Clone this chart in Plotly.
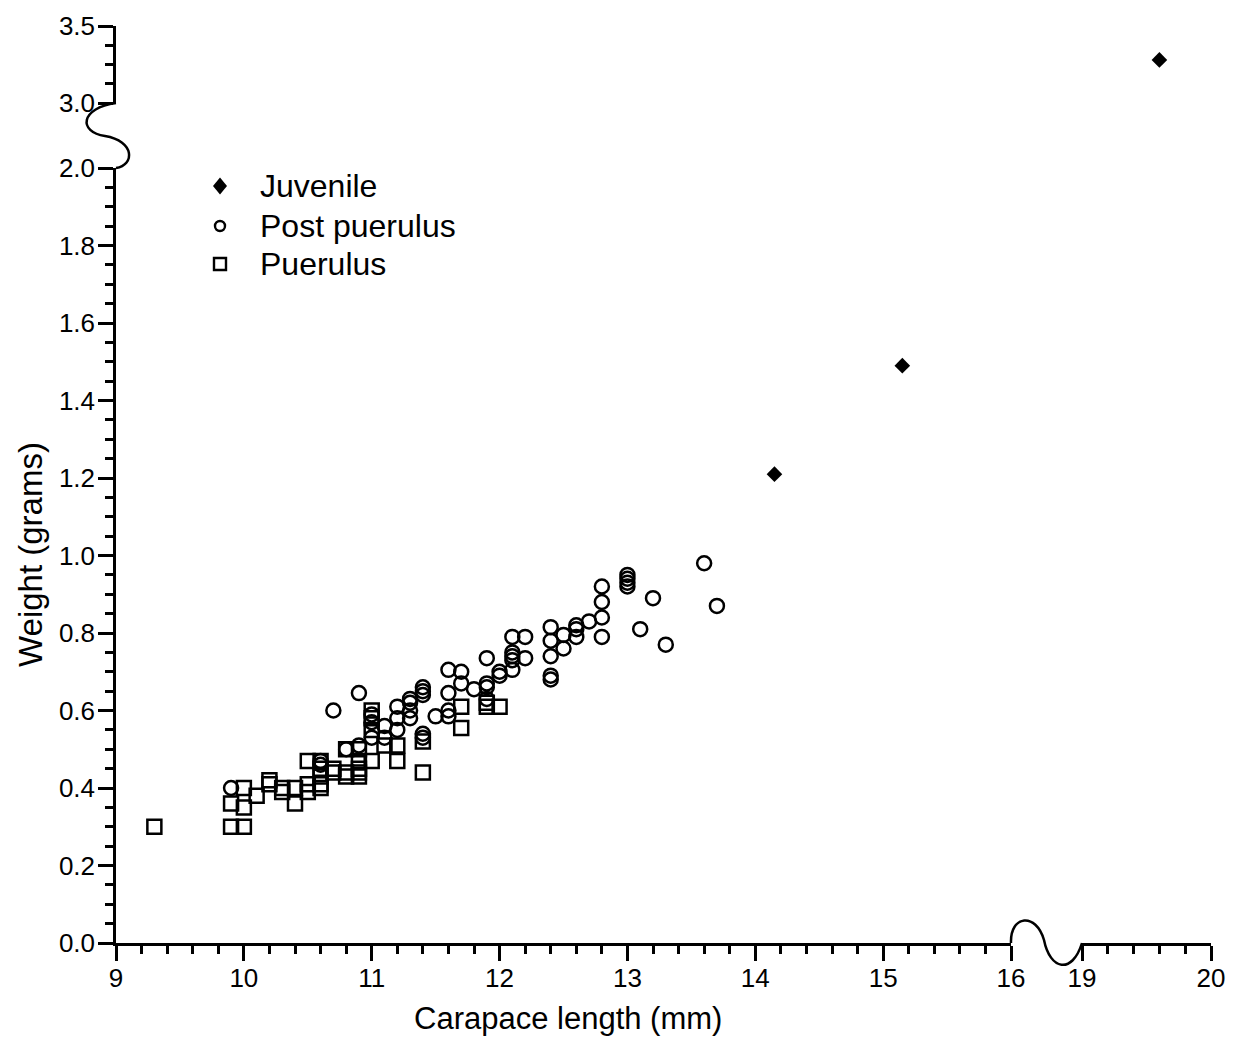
import plotly.graph_objects as go

# Carapace length (mm) and wet weight (g) by developmental stage
puerulus_cl = [9.3, 9.9, 9.9, 10.0, 10.0, 10.0, 10.1, 10.2, 10.2, 10.3, 10.3, 10.4, 10.4,
               10.5, 10.5, 10.5, 10.6, 10.6, 10.6, 10.6, 10.6, 10.7, 10.7, 10.8, 10.8, 10.8,
               10.9, 10.9, 10.9, 10.9, 10.9, 11.0, 11.0, 11.0, 11.0, 11.1, 11.2, 11.2,
               11.4, 11.4, 11.7, 11.7, 11.9, 11.9, 12.0]
puerulus_wt = [0.30, 0.30, 0.36, 0.30, 0.35, 0.40, 0.38, 0.42, 0.41, 0.40, 0.39, 0.40, 0.36,
               0.47, 0.41, 0.39, 0.47, 0.45, 0.43, 0.41, 0.40, 0.45, 0.44, 0.50, 0.44, 0.43,
               0.50, 0.47, 0.45, 0.44, 0.43, 0.60, 0.58, 0.55, 0.47, 0.51, 0.51, 0.47,
               0.52, 0.44, 0.61, 0.555, 0.62, 0.61, 0.61]

post_cl = [9.9, 10.6, 10.6, 10.7, 10.8, 10.9, 10.9, 11.0, 11.0, 11.0, 11.1, 11.1,
           11.2, 11.2, 11.2, 11.3, 11.3, 11.3, 11.3, 11.4, 11.4, 11.4, 11.4, 11.4,
           11.5, 11.6, 11.6, 11.6, 11.6, 11.7, 11.7, 11.8, 11.9, 11.9, 11.9, 11.9,
           12.0, 12.0, 12.1, 12.1, 12.1, 12.1, 12.1, 12.2, 12.2,
           12.4, 12.4, 12.4, 12.4, 12.4, 12.5, 12.5, 12.6, 12.6, 12.6, 12.7,
           12.8, 12.8, 12.8, 12.8, 13.0, 13.0, 13.0, 13.0, 13.1, 13.2, 13.3, 13.6, 13.7]
post_wt = [0.40, 0.47, 0.46, 0.60, 0.50, 0.645, 0.51, 0.59, 0.57, 0.53, 0.56, 0.53,
           0.61, 0.58, 0.55, 0.63, 0.62, 0.60, 0.58, 0.66, 0.65, 0.64, 0.54, 0.53,
           0.585, 0.705, 0.645, 0.60, 0.585, 0.70, 0.67, 0.655, 0.735, 0.67, 0.66, 0.63,
           0.70, 0.69, 0.79, 0.75, 0.74, 0.73, 0.705, 0.79, 0.735,
           0.815, 0.78, 0.74, 0.69, 0.68, 0.795, 0.76, 0.82, 0.81, 0.79, 0.83,
           0.92, 0.88, 0.84, 0.79, 0.95, 0.94, 0.93, 0.92, 0.81, 0.89, 0.77, 0.98, 0.87]

juvenile_cl = [14.15, 15.15]
juvenile_wt = [1.21, 1.49]
# the largest juvenile sits on the upper/right broken segments
juvenile_hi_cl = [19.6]
juvenile_hi_wt = [3.28]

x_ticks_main = [9, 10, 11, 12, 13, 14, 15, 16]
x_ticks_hi = [19, 20]
y_ticks_main = [0.0, 0.2, 0.4, 0.6, 0.8, 1.0, 1.2, 1.4, 1.6, 1.8, 2.0]
y_ticks_hi = [3.0, 3.5]

legend_labels = ["Juvenile", "Post puerulus", "Puerulus"]

# ---- page geometry (pixels) ----
W, H = 1239, 1039
ML, MR, MT, MB = 116, 28, 26, 96
PW, PH = W - ML - MR, H - MT - MB
PX_X16, PX_X19 = 1011, 1082
PY_Y2, PY_Y3 = 168, 103


def fx(px):
    return (px - ML) / PW


def fy(py):
    return (H - MB - py) / PH


FONT = "Liberation Sans, Arial, Helvetica, sans-serif"
LW = 2.5
MLW = 2.5

fig = go.Figure()

fig.add_trace(go.Scatter(
    x=puerulus_cl, y=puerulus_wt, mode="markers", name=legend_labels[2],
    marker=dict(symbol="square-open", size=14, color="black", line=dict(width=MLW)),
    xaxis="x", yaxis="y"))
fig.add_trace(go.Scatter(
    x=post_cl, y=post_wt, mode="markers", name=legend_labels[1],
    marker=dict(symbol="circle-open", size=14, color="black", line=dict(width=MLW)),
    xaxis="x", yaxis="y"))
fig.add_trace(go.Scatter(
    x=juvenile_cl, y=juvenile_wt, mode="markers", name=legend_labels[0],
    marker=dict(symbol="diamond", size=12, color="black"),
    xaxis="x", yaxis="y"))
fig.add_trace(go.Scatter(
    x=juvenile_hi_cl, y=juvenile_hi_wt, mode="markers", name=legend_labels[0],
    marker=dict(symbol="diamond", size=12, color="black"),
    xaxis="x2", yaxis="y2"))

axis_common = dict(
    showline=True, linecolor="black", linewidth=LW, showgrid=False, zeroline=False,
    ticks="outside", tickcolor="black", tickwidth=LW, ticklen=15,
    tickfont=dict(family=FONT, size=26, color="black"),
)
minor_common = dict(ticks="outside", ticklen=8, tickwidth=LW, tickcolor="black")

fig.update_layout(
    width=W, height=H, margin=dict(l=ML, r=MR, t=MT, b=MB),
    paper_bgcolor="white", plot_bgcolor="white",
    font=dict(family=FONT, color="black"),
    showlegend=False,
    xaxis=dict(domain=[0, fx(PX_X16)], range=[9, 16], tickvals=x_ticks_main,
               minor=dict(dtick=0.2, **minor_common), anchor="y",
               ticklabelstandoff=-5, **axis_common),
    xaxis2=dict(domain=[fx(PX_X19), 1], range=[19, 20], tickvals=x_ticks_hi,
                minor=dict(dtick=0.2, **minor_common), anchor="y",
                ticklabelstandoff=-5, **axis_common),
    yaxis=dict(domain=[0, fy(PY_Y2)], range=[0, 2.0], tickvals=y_ticks_main, tickformat=".1f",
               minor=dict(dtick=0.05, **minor_common), anchor="x",
               ticklabelstandoff=-2, **axis_common),
    yaxis2=dict(domain=[fy(PY_Y3), 1], range=[3.0, 3.5], tickvals=y_ticks_hi, tickformat=".1f",
                minor=dict(dtick=0.125, **minor_common), anchor="x",
                ticklabelstandoff=-2, **axis_common),
)


def pt(px, py):
    return f"{fx(px):.5f},{fy(py):.5f}"


# axis break marks
y_break = (f"M {pt(116, 103)} C {pt(80, 108)} {pt(78, 132)} {pt(105, 136)} "
           f"C {pt(135, 141)} {pt(135, 165)} {pt(116, 168)}")
x_break = (f"M {pt(1011, 943)} C {pt(1010, 915)} {pt(1036, 912)} {pt(1044, 940)} "
           f"C {pt(1050, 970)} {pt(1072, 975)} {pt(1082, 943)}")
for p in (y_break, x_break):
    fig.add_shape(type="path", path=p, xref="paper", yref="paper",
                  line=dict(color="black", width=LW))

# key: symbol column and label column
KEY_SYM_X, KEY_TEXT_X = 220, 258
KEY_ROWS = [186, 226, 264]
r = 7.5
fig.add_shape(type="path", xref="paper", yref="paper",
              path=(f"M {pt(KEY_SYM_X, KEY_ROWS[0] - r - 1)} L {pt(KEY_SYM_X + r - 0.5, KEY_ROWS[0])} "
                    f"L {pt(KEY_SYM_X, KEY_ROWS[0] + r + 1)} L {pt(KEY_SYM_X - r + 0.5, KEY_ROWS[0])} Z"),
              fillcolor="black", line=dict(color="black", width=0))
rc = 5
fig.add_shape(type="circle", xref="paper", yref="paper",
              x0=fx(KEY_SYM_X - rc), x1=fx(KEY_SYM_X + rc),
              y0=fy(KEY_ROWS[1] + rc), y1=fy(KEY_ROWS[1] - rc),
              line=dict(color="black", width=2.4))
rs = 6
fig.add_shape(type="rect", xref="paper", yref="paper",
              x0=fx(KEY_SYM_X - rs), x1=fx(KEY_SYM_X + rs),
              y0=fy(KEY_ROWS[2] + rs), y1=fy(KEY_ROWS[2] - rs),
              line=dict(color="black", width=2.4))
for label, row in zip(legend_labels, KEY_ROWS):
    fig.add_annotation(text=label, x=fx(KEY_TEXT_X), y=fy(row), xref="paper", yref="paper",
                       showarrow=False, xanchor="left", yanchor="middle",
                       font=dict(family=FONT, size=32, color="black"))

fig.add_annotation(text="Carapace length (mm)", x=fx(568), y=fy(1018), xref="paper", yref="paper",
                   showarrow=False, xanchor="center", yanchor="middle",
                   font=dict(family=FONT, size=31, color="black"))
fig.add_annotation(text="Weight (grams)", x=fx(30), y=fy(555), xref="paper", yref="paper",
                   showarrow=False, xanchor="center", yanchor="middle", textangle=-90,
                   font=dict(family=FONT, size=33, color="black"))

fig.write_html("out.html")
